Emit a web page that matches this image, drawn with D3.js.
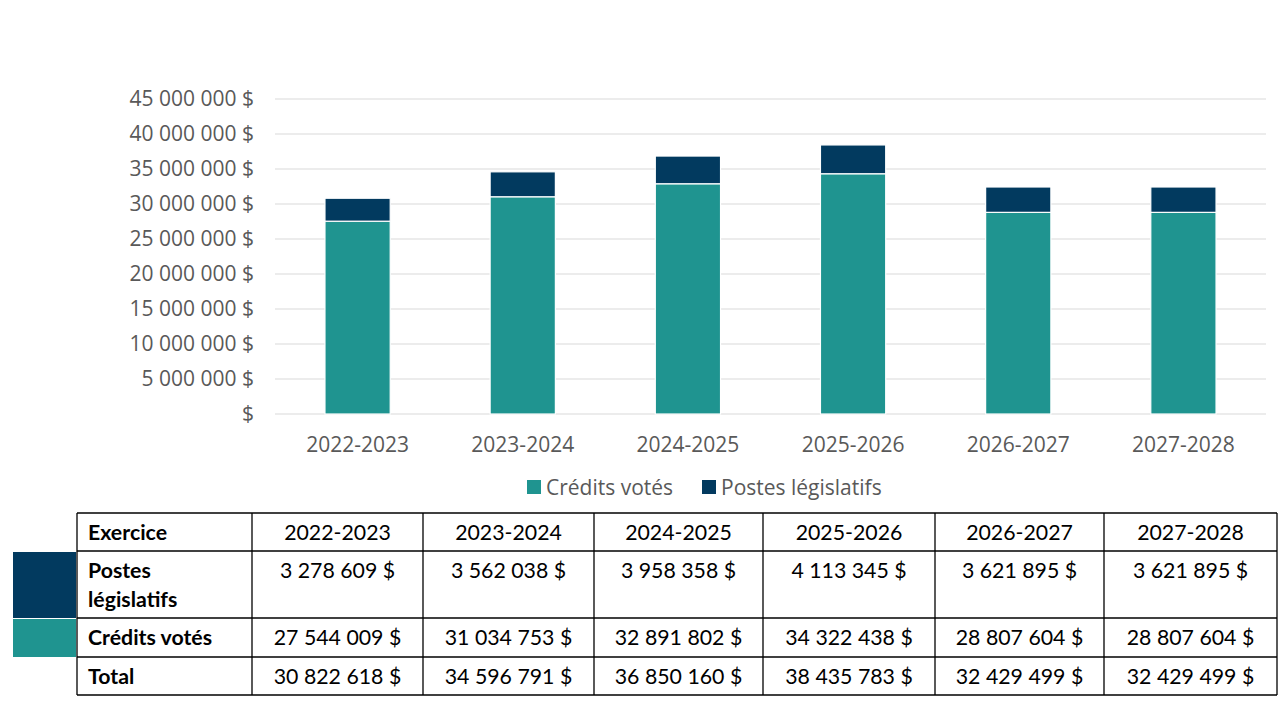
<!DOCTYPE html>
<html><head><meta charset="utf-8">
<script src="https://cdn.jsdelivr.net/npm/d3@7"></script>
<style>body{margin:0;background:#fff;}svg{display:block;}</style>
</head><body>
<svg id="c" width="1280" height="720"></svg>
<script>
const years = ["2022-2023","2023-2024","2024-2025","2025-2026","2026-2027","2027-2028"];
const postes = [3278609, 3562038, 3958358, 4113345, 3621895, 3621895];
const credits = [27544009, 31034753, 32891802, 34322438, 28807604, 28807604];
const yTicks = [0,5000000,10000000,15000000,20000000,25000000,30000000,35000000,40000000,45000000];
const seriesNames = ["Crédits votés","Postes législatifs"];
const rowLabels = ["Exercice","Postes législatifs","Crédits votés","Total"];

const TEAL = "#1f9490", NAVY = "#023a5f", GRAY = "#595959";
const svg = d3.select("#c");
const loc = d3.formatLocale({decimal:",", thousands:"\u00a0", grouping:[3], currency:["","\u00a0$"]});
const fmt = loc.format(",d");
const money = v => v === 0 ? "$" : fmt(v) + "\u00a0$";
const CF = "'Open Sans', sans-serif", CS = 21;

const x = d3.scaleBand().domain(years).range([275, 1266]).paddingInner(0.605).paddingOuter(0.3025);
const y = d3.scaleLinear().domain([0, 45000000]).range([414, 99]);

// gridlines
svg.append("g").selectAll("line").data(yTicks).join("line")
  .attr("x1", 275).attr("x2", 1266)
  .attr("y1", d => y(d)).attr("y2", d => y(d))
  .attr("stroke", "#d9d9d9").attr("stroke-width", 1);

// y labels
const yAxis = d3.axisLeft(y).tickValues(yTicks).tickFormat(money).tickSize(0).tickPadding(0);
const ya = svg.append("g").attr("transform", "translate(254,0)").call(yAxis);
ya.select(".domain").remove();
ya.selectAll("text").attr("font-family", CF).attr("font-size", CS).attr("fill", GRAY);

// x labels
const xAxis = d3.axisBottom(x).tickSize(0).tickPadding(0);
const xa = svg.append("g").attr("transform", "translate(0,437)").call(xAxis);
xa.select(".domain").remove();
xa.selectAll("text").attr("font-family", CF).attr("font-size", CS).attr("fill", GRAY);

// stacked bars
const rows = years.map((yr, i) => ({year: yr, c: credits[i], p: postes[i]}));
const stack = d3.stack().keys(["c", "p"])(rows);
const colors = [TEAL, NAVY];
svg.append("g").selectAll("g").data(stack).join("g")
  .attr("fill", (d, i) => colors[i])
  .selectAll("rect").data(d => d).join("rect")
  .attr("x", d => x(d.data.year))
  .attr("width", x.bandwidth())
  .attr("y", d => y(d[1]))
  .attr("height", d => y(d[0]) - y(d[1]))
  .attr("stroke", "#fff").attr("stroke-width", 1.2);

// legend
const lg = svg.append("g");
const legendItems = [{name: seriesNames[0], color: TEAL, x: 527}, {name: seriesNames[1], color: NAVY, x: 702}];
legendItems.forEach(it => {
  lg.append("rect").attr("x", it.x).attr("y", 480).attr("width", 14).attr("height", 14).attr("fill", it.color);
  lg.append("text").attr("x", it.x + 19).attr("y", 495).text(it.name)
    .attr("font-family", CF).attr("font-size", CS).attr("fill", GRAY);
});

// table
const colX = [77, 252, 423, 594, 763, 935, 1104, 1277];
const rowY = [513, 551, 618, 657, 695];
const tg = svg.append("g");
tg.append("rect").attr("x", 13).attr("y", rowY[1] + 1).attr("width", 63).attr("height", rowY[2] - rowY[1] - 1).attr("fill", NAVY);
tg.append("rect").attr("x", 13).attr("y", rowY[2] + 1).attr("width", 63).attr("height", rowY[3] - rowY[2] - 1).attr("fill", TEAL);
rowY.forEach(yy => tg.append("line").attr("x1", colX[0]).attr("x2", colX[7]).attr("y1", yy).attr("y2", yy)
  .attr("stroke", "#000").attr("stroke-width", 1.3));
colX.forEach(xx => tg.append("line").attr("x1", xx).attr("x2", xx).attr("y1", rowY[0]).attr("y2", rowY[4])
  .attr("stroke", "#000").attr("stroke-width", 1.3));
const tf = "Lato, 'Noto Sans', sans-serif", ts = 21.3;
const labelPos = [[540], [578, 607], [645], [684]];
const labelLines = [["Exercice"], ["Postes", "législatifs"], ["Crédits votés"], ["Total"]];
labelLines.forEach((lines, r) => lines.forEach((t, k) => {
  tg.append("text").attr("x", 88).attr("y", labelPos[r][k]).text(t)
    .attr("font-family", tf).attr("font-size", ts).attr("font-weight", "bold").attr("fill", "#000");
}));
const totals = years.map((_, i) => postes[i] + credits[i]);
const tableRows = [years, postes.map(money), credits.map(money), totals.map(money)];
const rowBase = [540, 578, 645, 684];
tableRows.forEach((vals, r) => {
  tg.append("g").selectAll("text").data(vals).join("text")
    .attr("x", (d, i) => (colX[i + 1] + colX[i + 2]) / 2)
    .attr("y", rowBase[r]).attr("text-anchor", "middle").text(d => d)
    .attr("font-family", tf).attr("font-size", ts).attr("fill", "#000");
});
</script>
</body></html>
